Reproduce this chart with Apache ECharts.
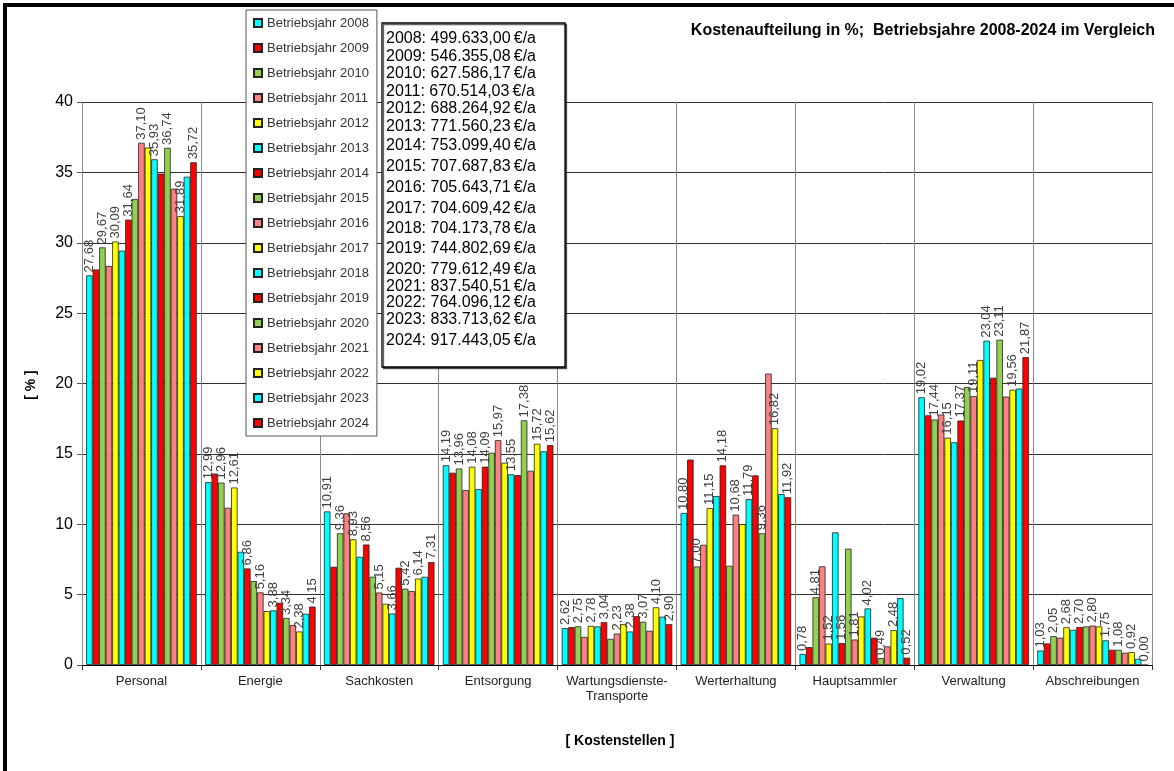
<!DOCTYPE html>
<html><head><meta charset="utf-8">
<script src="https://cdn.jsdelivr.net/npm/echarts@6/dist/echarts.min.js"></script>
<style>html,body{margin:0;padding:0;background:#fff}#c{width:1174px;height:771px}</style>
</head><body><div id="c"></div>
<script>
const categories = ['Personal','Energie','Sachkosten','Entsorgung','Wartungsdienste-\nTransporte','Werterhaltung','Hauptsammler','Verwaltung','Abschreibungen'];
const years = [2008,2009,2010,2011,2012,2013,2014,2015,2016,2017,2018,2019,2020,2021,2022,2023,2024];
const v2008 = [27.68, 12.99, 10.91, 14.19, 2.62, 10.80, 0.78, 19.02, 1.03];
const v2009 = [28.10, 13.60, 6.98, 13.66, 2.69, 14.59, 1.27, 17.74, 1.53];
const v2010 = [29.67, 12.96, 9.36, 13.96, 2.75, 7.00, 4.81, 17.44, 2.05];
const v2011 = [28.35, 11.17, 10.77, 12.43, 2.00, 8.54, 7.01, 17.79, 1.94];
const v2012 = [30.09, 12.61, 8.93, 14.08, 2.78, 11.15, 1.52, 16.15, 2.68];
const v2013 = [29.44, 8.04, 7.69, 12.50, 2.74, 12.00, 9.42, 15.82, 2.50];
const v2014 = [31.64, 6.86, 8.56, 14.09, 3.04, 14.18, 1.56, 17.37, 2.70];
const v2015 = [33.11, 5.96, 6.27, 15.08, 1.86, 7.05, 8.26, 19.75, 2.74];
const v2016 = [37.10, 5.16, 5.15, 15.97, 2.23, 10.68, 1.81, 19.11, 2.80];
const v2017 = [36.76, 3.83, 4.35, 14.37, 2.90, 10.01, 3.45, 21.67, 2.74];
const v2018 = [35.93, 3.88, 3.66, 13.55, 2.38, 11.79, 4.02, 23.04, 1.75];
const v2019 = [34.91, 4.42, 6.91, 13.49, 3.47, 13.47, 1.94, 20.41, 1.08];
const v2020 = [36.74, 3.34, 5.42, 17.38, 3.07, 9.36, 0.49, 23.11, 1.08];
const v2021 = [33.84, 2.84, 5.25, 13.80, 2.43, 20.70, 1.32, 19.07, 0.87];
const v2022 = [31.89, 2.38, 6.14, 15.72, 4.10, 16.82, 2.48, 19.56, 0.92];
const v2023 = [34.69, 3.64, 6.27, 15.18, 3.43, 12.14, 4.75, 19.64, 0.44];
const v2024 = [35.72, 4.15, 7.31, 15.62, 2.90, 11.92, 0.52, 21.87, 0.00];
const values = [v2008,v2009,v2010,v2011,v2012,v2013,v2014,v2015,v2016,v2017,v2018,v2019,v2020,v2021,v2022,v2023,v2024];
const costs = ['499.633,00','546.355,08','627.586,17','670.514,03','688.264,92','771.560,23','753.099,40','707.687,83','705.643,71','704.609,42','704.173,78','744.802,69','779.612,49','837.540,51','764.096,12','833.713,62','917.443,05'];
const yTicks = [0,5,10,15,20,25,30,35,40];

// layout: vertical centres of the lines in the cost text box
const costLineY = [39, 57, 74, 92, 109, 127, 146, 167, 188, 209, 229, 249, 270, 287, 303, 320, 341];

const palette = ['#00FFFF','#FF0000','#92D050','#FF8080','#FFFF00'];
const FONT = "'Liberation Sans', Arial, sans-serif";

const chart = echarts.init(document.getElementById('c'), null, {renderer:'canvas'});

const series = years.map((y,i)=>({
  name: 'Betriebsjahr ' + y,
  type: 'bar',
  data: values[i],
  barGap: '0%',
  barCategoryGap: '7%',
  itemStyle: {color: palette[i%5], borderColor: '#222', borderWidth: 0.8},
  label: {
    show: i % 2 === 0,
    position: 'top', rotate: 90, align: 'left', verticalAlign: 'middle', distance: 3,
    fontSize: 13, fontFamily: FONT, color: '#404040',
    formatter: p => p.value.toFixed(2).replace('.', ',')
  }
}));

const costTexts = costs.map((c,i)=>({
  type: 'text', x: 386, y: costLineY[i], z: 101,
  style: {text: years[i] + ': ' + c + '\u2009€/a', fill: '#000', font: '16px ' + FONT, textAlign: 'left', textVerticalAlign: 'middle', verticalAlign: 'middle'}
}));

chart.setOption({
  animation: false,
  grid: {left: 82, right: 22, top: 102, bottom: 106, containLabel: false},
  legend: {
    orient: 'vertical', left: 246, top: 10, width: 128,
    padding: [6, 8, 6, 7], itemGap: 11, itemWidth: 8, itemHeight: 8, icon: 'rect',
    backgroundColor: '#fff', borderColor: '#555', borderWidth: 1,
    textStyle: {color: '#333', fontSize: 13, fontFamily: FONT, lineHeight: 14},
    data: years.map(y => 'Betriebsjahr ' + y), z: 50
  },
  xAxis: {
    type: 'category', data: categories,
    axisLine: {lineStyle: {color: '#000', width: 1}},
    axisTick: {show: true, length: 5, lineStyle: {color: '#333'}},
    axisLabel: {fontSize: 13, fontFamily: FONT, color: '#222', margin: 9, lineHeight: 15, interval: 0},
    splitLine: {show: true, lineStyle: {color: '#8a8a8a', width: 1}}
  },
  yAxis: {
    type: 'value', min: 0, max: 40, interval: 5,
    axisLine: {show: true, lineStyle: {color: '#8a8a8a'}},
    axisTick: {show: true, length: 5, lineStyle: {color: '#555'}},
    axisLabel: {fontSize: 16, fontFamily: FONT, color: '#000', margin: 9,
      formatter: v => yTicks.includes(v) ? String(v) : ''},
    splitLine: {show: true, lineStyle: {color: '#303030', width: 1}}
  },
  series: series,
  graphic: [
    {type: 'rect', shape: {x: 3, y: 3, width: 1171, height: 4}, style: {fill: '#000'}, z: 200},
    {type: 'rect', shape: {x: 3, y: 3, width: 4, height: 768}, style: {fill: '#000'}, z: 200},
    {type: 'text', x: 1155, y: 31, z: 100,
      style: {text: 'Kostenaufteilung in %;  Betriebsjahre 2008-2024 im Vergleich', fill: '#000', font: 'bold 16px ' + FONT, textAlign: 'right', align: 'right', textVerticalAlign: 'middle', verticalAlign: 'middle'}},
    {type: 'text', x: 31, y: 385, rotation: Math.PI/2, z: 100,
      style: {text: '[ % ]', fill: '#000', font: 'bold 14px ' + FONT, textAlign: 'center', align: 'center', textVerticalAlign: 'middle', verticalAlign: 'middle'}},
    {type: 'text', x: 620, y: 741, z: 100,
      style: {text: '[ Kostenstellen ]', fill: '#000', font: 'bold 14px ' + FONT, textAlign: 'center', align: 'center', textVerticalAlign: 'middle', verticalAlign: 'middle'}},
    {type: 'rect', shape: {x: 382, y: 23, width: 183, height: 344}, z: 99,
      style: {fill: '#fff', stroke: '#000', lineWidth: 1.3, shadowColor: 'rgba(0,0,0,0.6)', shadowOffsetX: 1.5, shadowOffsetY: 1.5, shadowBlur: 0}},
    ...costTexts
  ]
});
</script></body></html>
